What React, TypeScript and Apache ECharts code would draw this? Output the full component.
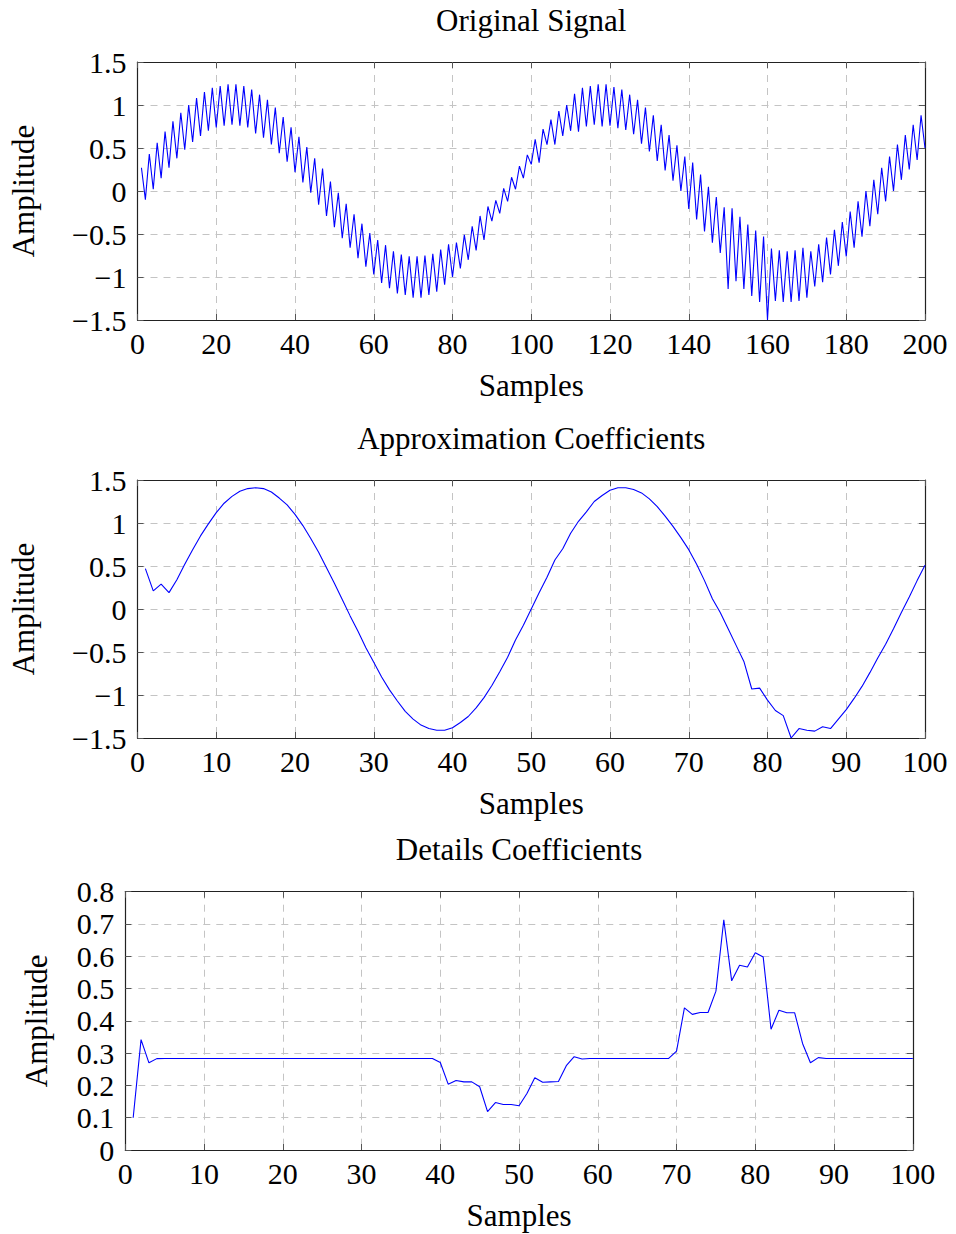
import React, { useEffect, useRef } from "react";
import * as echarts from "echarts";

// Original signal, samples 1..200
const originalSignal: number[] = [
  0.27, -0.10, 0.43, 0.02, 0.56, 0.15, 0.69, 0.27, 0.81, 0.38,
  0.91, 0.48, 1.00, 0.57, 1.08, 0.64, 1.15, 0.70, 1.20, 0.74,
  1.22, 0.76, 1.24, 0.77, 1.24, 0.76, 1.22, 0.74, 1.18, 0.67,
  1.12, 0.62, 1.06, 0.54, 0.97, 0.44, 0.86, 0.34, 0.74, 0.22,
  0.63, 0.10, 0.51, -0.02, 0.38, -0.16, 0.26, -0.29, 0.11, -0.42,
  -0.02, -0.55, -0.15, -0.66, -0.27, -0.78, -0.38, -0.88, -0.49, -0.97,
  -0.57, -1.07, -0.63, -1.13, -0.70, -1.19, -0.74, -1.21, -0.76, -1.24,
  -0.76, -1.24, -0.75, -1.21, -0.73, -1.17, -0.68, -1.09, -0.62, -1.00,
  -0.60, -0.90, -0.51, -0.80, -0.41, -0.69, -0.29, -0.57, -0.18, -0.35,
  -0.11, -0.26, 0.03, -0.12, 0.16, 0.02, 0.29, 0.15, 0.42, 0.31,
  0.60, 0.33, 0.72, 0.54, 0.83, 0.54, 0.93, 0.64, 1.00, 0.70,
  1.13, 0.69, 1.20, 0.75, 1.22, 0.77, 1.24, 0.75, 1.24, 0.76,
  1.21, 0.73, 1.18, 0.71, 1.12, 0.66, 1.06, 0.55, 0.97, 0.46,
  0.88, 0.35, 0.77, 0.24, 0.65, 0.12, 0.53, 0.00, 0.40, -0.21,
  0.33, -0.33, 0.19, -0.47, 0.05, -0.60, -0.07, -0.72, -0.19, -1.14,
  -0.20, -1.05, -0.30, -1.14, -0.39, -1.22, -0.46, -1.29, -0.53, -1.50,
  -0.67, -1.28, -0.69, -1.29, -0.70, -1.29, -0.69, -1.28, -0.66, -1.24,
  -0.70, -1.11, -0.62, -1.06, -0.54, -0.97, -0.45, -0.87, -0.36, -0.76,
  -0.24, -0.66, -0.12, -0.53, 0.00, -0.41, 0.13, -0.27, 0.27, -0.12,
  0.40, 0.00, 0.54, 0.13, 0.65, 0.25, 0.77, 0.36, 0.88, 0.50,
];

// Approximation coefficients, samples 1..100
const approxCoefficients: number[] = [
  0.47, 0.21, 0.29, 0.19, 0.34, 0.52, 0.69, 0.85, 0.99, 1.12,
  1.23, 1.31, 1.37, 1.40, 1.41, 1.40, 1.36, 1.29, 1.21, 1.10,
  0.97, 0.82, 0.66, 0.48, 0.30, 0.11, -0.08, -0.26, -0.45, -0.62,
  -0.79, -0.94, -1.07, -1.19, -1.28, -1.35, -1.39, -1.41, -1.41, -1.38,
  -1.32, -1.25, -1.15, -1.03, -0.89, -0.73, -0.56, -0.36, -0.19, 0.00,
  0.19, 0.37, 0.57, 0.70, 0.88, 1.02, 1.13, 1.25, 1.32, 1.38,
  1.41, 1.41, 1.39, 1.35, 1.28, 1.19, 1.08, 0.96, 0.83, 0.69,
  0.52, 0.33, 0.12, -0.04, -0.23, -0.42, -0.61, -0.93, -0.92, -1.06,
  -1.18, -1.24, -1.50, -1.39, -1.41, -1.42, -1.37, -1.39, -1.28, -1.17,
  -1.04, -0.90, -0.74, -0.57, -0.41, -0.23, -0.04, 0.14, 0.33, 0.51,
];

// Detail coefficients, samples 1..100
const detailCoefficients: number[] = [
  0.10, 0.342, 0.27, 0.283, 0.2835, 0.2835, 0.2835, 0.2835, 0.2835, 0.2835,
  0.2835, 0.2835, 0.2835, 0.2835, 0.2835, 0.2835, 0.2835, 0.2835, 0.2835, 0.2835,
  0.2835, 0.2835, 0.2835, 0.2835, 0.2835, 0.2835, 0.2835, 0.2835, 0.2835, 0.2835,
  0.2835, 0.2835, 0.2835, 0.2835, 0.2835, 0.2835, 0.2835, 0.2835, 0.2835, 0.271,
  0.204, 0.215, 0.211, 0.211, 0.196, 0.119, 0.147, 0.141, 0.141, 0.137,
  0.175, 0.224, 0.210, 0.211, 0.212, 0.261, 0.289, 0.282, 0.2835, 0.2835,
  0.2835, 0.2835, 0.2835, 0.2835, 0.2835, 0.2835, 0.2835, 0.2835, 0.2835, 0.306,
  0.44, 0.42, 0.426, 0.426, 0.492, 0.713, 0.524, 0.572, 0.567, 0.611,
  0.598, 0.374, 0.433, 0.425, 0.425, 0.33, 0.27, 0.286, 0.2835, 0.2835,
  0.2835, 0.2835, 0.2835, 0.2835, 0.2835, 0.2835, 0.2835, 0.2835, 0.2835, 0.2835,
];

const panelTitles = ["Original Signal", "Approximation Coefficients", "Details Coefficients"];
const xAxisName = "Samples";
const yAxisName = "Amplitude";
const xMaxes = [200, 100, 100];
const xIntervals = [20, 10, 10];
const yMins = [-1.5, -1.5, 0];
const yMaxes = [1.5, 1.5, 0.8];
const yIntervals = [0.5, 0.5, 0.1];

const FONT = "'Liberation Serif', 'DejaVu Serif', serif";

const fmt = (v: number) => {
  const r = Math.round(v * 10) / 10;
  return r < 0 ? "\u2212" + String(Math.abs(r)) : String(r);
};

const layout = [
  { left: 137.5, top: 62, width: 787.5, height: 258, yNameX: 23 },
  { left: 137.5, top: 480, width: 787.5, height: 258, yNameX: 23 },
  { left: 125.3, top: 891.7, width: 787.5, height: 258.3, yNameX: 36 },
];

export default function App() {
  const ref = useRef<HTMLDivElement>(null);
  useEffect(() => {
    if (!ref.current) return;
    const chart = echarts.init(ref.current, undefined, { renderer: "svg" });
    const seriesData = [originalSignal, approxCoefficients, detailCoefficients];

    const grids: any[] = [];
    const xAxes: any[] = [];
    const yAxes: any[] = [];
    const series: any[] = [];
    const graphics: any[] = [];

    const lineStyle = { color: "#222", width: 1.2 };
    const tickStyle = { color: "#555", width: 1 };
    const splitStyle = { color: "#c4c4c4", width: 1, type: [7, 6] };

    layout.forEach((g, i) => {
      grids.push({ left: g.left, top: g.top, width: g.width, height: g.height, containLabel: false });
      const xBase = { gridIndex: i, type: "value", min: 0, max: xMaxes[i], interval: xIntervals[i] };
      const yBase = { gridIndex: i, type: "value", min: yMins[i], max: yMaxes[i], interval: yIntervals[i] };
      xAxes.push({
        ...xBase,
        position: "bottom",
        axisLine: { show: true, onZero: false, lineStyle },
        axisTick: { show: true, inside: true, length: 6, lineStyle: tickStyle },
        axisLabel: { show: true, margin: 8, fontFamily: FONT, fontSize: 30, color: "#000", formatter: fmt },
        splitLine: { show: true, lineStyle: splitStyle },
      });
      xAxes.push({
        ...xBase,
        position: "top",
        axisLine: { show: true, onZero: false, lineStyle },
        axisTick: { show: true, inside: true, length: 6, lineStyle: tickStyle },
        axisLabel: { show: false },
        splitLine: { show: false },
      });
      yAxes.push({
        ...yBase,
        position: "left",
        axisLine: { show: true, onZero: false, lineStyle },
        axisTick: { show: true, inside: true, length: 6, lineStyle: tickStyle },
        axisLabel: { show: true, margin: 11, fontFamily: FONT, fontSize: 30, color: "#000", formatter: fmt },
        splitLine: { show: true, lineStyle: splitStyle },
      });
      yAxes.push({
        ...yBase,
        position: "right",
        axisLine: { show: true, onZero: false, lineStyle },
        axisTick: { show: true, inside: true, length: 6, lineStyle: tickStyle },
        axisLabel: { show: false },
        splitLine: { show: false },
      });
      series.push({
        type: "line",
        xAxisIndex: i * 2,
        yAxisIndex: i * 2,
        data: seriesData[i].map((v, k) => [k + 1, v]),
        showSymbol: false,
        symbol: "none",
        lineStyle: { color: "#0000ff", width: 1.1 },
        clip: true,
      });
      const cx = g.left + g.width / 2;
      const textStyle = (text: string) => ({
        text,
        fontSize: 31,
        fontFamily: FONT,
        fill: "#000",
        align: "center",
        verticalAlign: "middle",
        textAlign: "center",
        textVerticalAlign: "middle",
      });
      graphics.push({ type: "text", x: cx, y: g.top - 42, style: textStyle(panelTitles[i]) });
      graphics.push({ type: "text", x: cx, y: g.top + g.height + 65, style: textStyle(xAxisName) });
      graphics.push({
        type: "text",
        x: g.yNameX,
        y: g.top + g.height / 2,
        rotation: Math.PI / 2,
        style: textStyle(yAxisName),
      });
    });

    chart.setOption({
      animation: false,
      backgroundColor: "#fff",
      grid: grids,
      xAxis: xAxes,
      yAxis: yAxes,
      series,
      graphic: graphics,
    });
    return () => chart.dispose();
  }, []);
  return (
    <div
      ref={ref}
      style={{ position: "absolute", left: 0, top: 0, width: 956, height: 1234, background: "#fff" }}
    />
  );
}
